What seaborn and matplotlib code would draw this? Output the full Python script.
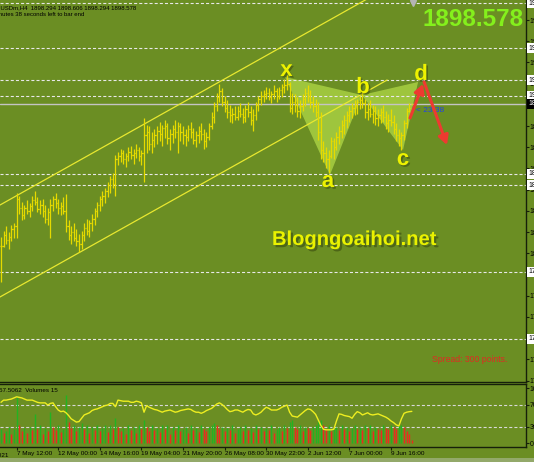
import matplotlib
matplotlib.use("Agg")
import matplotlib.pyplot as plt
import matplotlib.transforms as mtransforms
import matplotlib.patheffects as pe
from matplotlib.patches import Polygon, Rectangle
from matplotlib.ticker import FormatStrFormatter
import numpy as np
import pandas as pd
import seaborn as sns

# ---------------- data ----------------
bar_high = [1811, 1815, 1818, 1814, 1819, 1820, 1840, 1838, 1834, 1832,
            1835, 1833, 1838, 1841, 1837, 1835, 1836, 1832, 1830, 1836,
            1838, 1840, 1836, 1834, 1837, 1839, 1822, 1818, 1820, 1816,
            1813, 1815, 1820, 1823, 1822, 1826, 1830, 1834, 1838, 1841,
            1843, 1847, 1851, 1853, 1865, 1867, 1869, 1868, 1866, 1870,
            1871, 1869, 1872, 1870, 1868, 1889, 1885, 1884, 1880, 1882,
            1884, 1887, 1885, 1888, 1886, 1882, 1885, 1888, 1887, 1886,
            1884, 1882, 1885, 1887, 1883, 1881, 1884, 1886, 1882, 1880,
            1886, 1893, 1900, 1906, 1912, 1909, 1904, 1901, 1898, 1896,
            1897, 1897, 1899, 1896, 1898, 1900, 1897, 1895, 1900, 1904,
            1907, 1908, 1910, 1909, 1907, 1911, 1909, 1910, 1912, 1915,
            1918, 1913, 1906, 1905, 1903, 1901, 1905, 1909, 1911, 1908,
            1904, 1902, 1900, 1893, 1874, 1870, 1868, 1877, 1876, 1880,
            1884, 1888, 1891, 1894, 1897, 1899, 1901, 1902, 1904, 1906,
            1902, 1899, 1901, 1898, 1897, 1895, 1896, 1898, 1894, 1892,
            1895, 1891, 1886, 1882, 1880, 1888, 1896, 1899, 1898.606]
bar_low = [1781, 1804, 1806, 1803, 1808, 1810, 1810, 1826, 1822, 1823,
           1826, 1824, 1828, 1832, 1827, 1826, 1824, 1820, 1819, 1810,
           1828, 1830, 1826, 1825, 1826, 1814, 1809, 1806, 1808, 1805,
           1801, 1803, 1808, 1812, 1811, 1815, 1819, 1824, 1828, 1831,
           1833, 1837, 1840, 1843, 1838, 1858, 1860, 1859, 1857, 1861,
           1862, 1859, 1863, 1861, 1858, 1847, 1866, 1868, 1866, 1870,
           1872, 1874, 1871, 1876, 1872, 1868, 1873, 1876, 1866, 1874,
           1872, 1871, 1874, 1876, 1872, 1870, 1873, 1875, 1869, 1870,
           1875, 1882, 1886, 1894, 1900, 1897, 1893, 1889, 1887, 1886,
           1888, 1888, 1890, 1886, 1887, 1890, 1885, 1881, 1888, 1894,
           1898, 1900, 1902, 1901, 1899, 1902, 1900, 1902, 1903, 1906,
           1908, 1893, 1892, 1893, 1890, 1889, 1894, 1897, 1900, 1896,
           1893, 1890, 1875, 1862, 1860, 1856, 1853, 1863, 1862, 1868,
           1872, 1876, 1879, 1883, 1887, 1889, 1891, 1892, 1895, 1896,
           1889, 1888, 1890, 1886, 1885, 1884, 1886, 1887, 1882, 1880,
           1884, 1879, 1874, 1871, 1868, 1875, 1883, 1893, 1898.294]
bar_close = [1805, 1812, 1809, 1811, 1816, 1818, 1836, 1830, 1825, 1830,
             1828, 1831, 1835, 1834, 1829, 1832, 1828, 1823, 1827, 1832,
             1836, 1833, 1830, 1831, 1828, 1818, 1812, 1814, 1810, 1808,
             1806, 1812, 1817, 1815, 1820, 1823, 1828, 1832, 1836, 1838,
             1841, 1845, 1849, 1846, 1862, 1864, 1866, 1862, 1864, 1867,
             1865, 1866, 1868, 1864, 1866, 1878, 1880, 1872, 1875, 1878,
             1881, 1879, 1883, 1884, 1876, 1879, 1882, 1880, 1884, 1880,
             1878, 1877, 1882, 1880, 1875, 1878, 1881, 1879, 1874, 1877,
             1884, 1890, 1897, 1903, 1907, 1900, 1896, 1893, 1891, 1892,
             1890, 1894, 1892, 1890, 1895, 1893, 1888, 1891, 1898, 1902,
             1904, 1905, 1906, 1903, 1905, 1907, 1904, 1908, 1910, 1911,
             1912, 1896, 1900, 1898, 1894, 1897, 1902, 1906, 1904, 1900,
             1897, 1893, 1880, 1868, 1866, 1862, 1864, 1874, 1870, 1877,
             1881, 1885, 1888, 1891, 1894, 1896, 1898, 1900, 1901, 1899,
             1893, 1895, 1892, 1894, 1889, 1891, 1893, 1890, 1886, 1888,
             1887, 1882, 1878, 1876, 1878, 1886, 1894, 1896, 1898.578]
volumes = [26, 18, 22, 30, 16, 25, 84, 33, 22, 28,
           19, 30, 24, 52, 26, 32, 16, 28, 22, 56,
           30, 24, 32, 20, 26, 87, 38, 28, 33, 22,
           30, 36, 26, 32, 18, 30, 24, 33, 22, 28,
           32, 20, 33, 26, 46, 30, 22, 28, 16, 32,
           24, 30, 18, 33, 26, 42, 30, 22, 32, 24,
           28, 20, 33, 26, 32, 16, 30, 24, 33, 22,
           26, 30, 18, 32, 24, 28, 20, 33, 26, 22,
           30, 33, 36, 32, 26, 30, 22, 28, 24, 32,
           18, 26, 30, 22, 33, 24, 28, 20, 32, 26,
           30, 22, 28, 24, 32, 18, 26, 30, 22, 33,
           28, 38, 42, 30, 26, 33, 22, 30, 28, 24,
           30, 33, 40, 42, 32, 26, 33, 22, 28, 30,
           24, 32, 26, 30, 22, 28, 33, 26, 30, 24,
           32, 28, 33, 22, 30, 26, 24, 32, 28, 26,
           33, 30, 26, 32, 33, 30, 22, 16, 6]
rsi_values = [74, 78, 78, 79, 80, 82, 84, 83, 82, 80,
              78, 78, 78, 76, 74, 73, 73, 73, 69, 72,
              73, 66, 60, 57, 58, 55, 50, 44, 41, 38,
              39, 45, 51, 53, 55, 59, 61, 62, 64, 66,
              68, 69, 72, 72, 66, 78, 77, 76, 76, 76,
              74, 74, 76, 75, 73, 56, 68, 65, 63, 61,
              60, 58, 56, 58, 59, 60, 58, 56, 57, 59,
              60, 61, 62, 61, 58, 56, 56, 54, 56, 59,
              61, 63, 67, 71, 73, 70, 66, 61, 57, 58,
              60, 60, 58, 56, 59, 61, 60, 53, 51, 53,
              56, 61, 65, 63, 60, 60, 60, 62, 65, 67,
              69, 56, 49, 48, 47, 51, 55, 59, 62, 61,
              57, 52, 42, 32, 25, 24, 24, 24, 25, 40,
              53, 52, 50, 49, 48, 45, 52, 57, 55, 51,
              53, 55, 52, 51, 52, 53, 51, 49, 47, 44,
              40, 37, 33, 31, 44, 54, 56, 57, 57.5062]

date_tick_bars = [-10, 6, 22, 38, 54, 70, 86, 102, 118, 134, 150]
date_tick_labels = ["5 May 2021", "7 May 12:00", "12 May 00:00", "14 May 16:00",
                    "19 May 04:00", "21 May 20:00", "26 May 08:00", "30 May 22:00",
                    "2 Jun 12:00", "7 Jun 00:00", "9 Jun 16:00"]
price_ticks = [1716, 1730, 1744, 1758, 1772, 1786, 1800, 1814, 1828,
               1842, 1856, 1870, 1884, 1898, 1912, 1926, 1940, 1954]
level_prices = [1965.2, 1935.5, 1914.4, 1903.9, 1852.4, 1845.1, 1787.7, 1743.5]
current_price = 1898.578
last_ohlc = [1898.294, 1898.606, 1898.294, 1898.578]
rsi_levels = [30, 70]
rsi_ticks = [0, 30, 70, 100]

pattern_names = ["x", "a", "b", "c", "d"]
pattern_bars = [109.2, 126.5, 138.8, 154.6, 160.4]
pattern_prices = [1916.4, 1851.7, 1904.5, 1868.2, 1913.1]

channel_bars = [-0.4, 148.5]
channel_lower = [1771.2, 1914.4]
channel_upper = [1831.9, 1975.3]

arrow_up_bars = [157.3, 162.3]
arrow_up_prices = [1889.3, 1911.8]
arrow_down_bars = [162.7, 171.5]
arrow_down_prices = [1913.1, 1871.5]

# ---------------- style ----------------
BG = "#6b8e23"
BAR = "#e6da00"
FRAME = "#16200a"
sns.set_style("dark", {"axes.facecolor": BG, "figure.facecolor": BG})
plt.rcParams["font.family"] = ["Liberation Sans", "DejaVu Sans"]
plt.rcParams["lines.scale_dashes"] = False
W, H = 534, 462

fig = plt.figure(figsize=(W / 100, H / 100), dpi=100, facecolor=BG)
ax = fig.add_axes([0, 80 / H, 526 / W, 382 / H])
ax2 = fig.add_axes([0, 15 / H, 526 / W, 63 / H])
fig.patches.append(Rectangle((0, 0), 1, 4 / H, transform=fig.transFigure,
                             facecolor="#93a96a", edgecolor="none"))

for a in (ax, ax2):
    a.set_facecolor(BG)
    a.grid(False)
    a.set_xlim(-0.385, 201.9)
    for s in a.spines.values():
        s.set_color(FRAME)
        s.set_linewidth(1)
    a.spines["left"].set_visible(False)
ax.spines["top"].set_visible(False)

# ---------------- main price panel ----------------
ax.set_ylim(1715.1, 1967.2)
idx = np.arange(len(bar_close))
bar_open = [bar_close[0]] + bar_close[:-1]
bar_open[-1] = last_ohlc[0]

xa = list(zip(pattern_bars, pattern_prices))
ax.add_patch(Polygon([xa[0], xa[1], xa[2]], closed=True, facecolor="#bfe84e",
                     edgecolor="none", alpha=0.62, zorder=1))
ax.add_patch(Polygon([xa[2], xa[3], xa[4]], closed=True, facecolor="#bfe84e",
                     edgecolor="none", alpha=0.62, zorder=1))

for p in level_prices:
    ax.axhline(p, color="#e8e8e8", lw=0.8, ls=(0, (2.2, 1.5)), zorder=1.5)
ax.axhline(current_price, color="#c4c4c4", lw=1, zorder=1.5)

ax.plot(channel_bars, channel_lower, color="#e8e830", lw=0.9, zorder=2)
ax.plot(channel_bars, channel_upper, color="#e8e830", lw=0.9, zorder=2)

ax.vlines(idx, bar_low, bar_high, color=BAR, lw=0.9, zorder=3)
ax.hlines(bar_close, idx, idx + 0.45, color=BAR, lw=0.9, zorder=3)
ax.hlines(bar_open, idx - 0.45, idx, color=BAR, lw=0.9, zorder=3)

label_offsets = {"x": (1.5, 1), "a": (-2, -12), "b": (1, 2), "c": (0, -15), "d": (3, 2)}
shadow = [pe.withSimplePatchShadow(offset=(1.2, -1.2), shadow_rgbFace="#3a4a10", alpha=0.55)]
for name, bx, py in zip(pattern_names, pattern_bars, pattern_prices):
    dx, dy = label_offsets[name]
    ax.annotate(name, xy=(bx, py), xytext=(dx, dy), textcoords="offset pixels",
                ha="center", va="baseline", fontsize=16, fontweight="bold",
                color="#eef200", zorder=6, path_effects=shadow)

for bxs, pys in ((arrow_up_bars, arrow_up_prices), (arrow_down_bars, arrow_down_prices)):
    ax.annotate("", xy=(bxs[1], pys[1]), xytext=(bxs[0], pys[0]),
                arrowprops=dict(arrowstyle="-|>,head_length=0.55,head_width=0.3",
                                color="#ee3a30", lw=2.2, shrinkA=0, shrinkB=0),
                zorder=7)

ax.text(159.5, current_price - 2.2, "< 23:38", color="#2040f0", fontsize=6,
        va="top", ha="left", zorder=6)

ax.set_yticks(price_ticks)
ax.yaxis.set_major_formatter(FormatStrFormatter("%.2f"))
ax.tick_params(axis="y", left=False, labelleft=False, right=True, labelright=True,
               length=2, width=0.8, color=FRAME, labelcolor="black", labelsize=5,
               pad=0.5, direction="out")
ax.tick_params(axis="x", bottom=False, labelbottom=False)
ax.set_xlabel("")
ax.set_ylabel("")

blend = mtransforms.blended_transform_factory(ax.transAxes, ax.transData)
for p in level_prices:
    ax.text(1.0 + 2.5 / 526, p, f"{p:.2f}", transform=blend, fontsize=5, color="black",
            va="center", ha="left", zorder=8,
            bbox=dict(boxstyle="square,pad=0.2", fc="white", ec="none"))
ax.text(1.0 + 2.5 / 526, current_price, f"{current_price:.2f}", transform=blend,
        fontsize=5, color="white", va="center", ha="left", zorder=9,
        bbox=dict(boxstyle="square,pad=0.2", fc="black", ec="none"))

tshift = mtransforms.blended_transform_factory(ax.transData, ax.transAxes)
ax.plot([158.5], [0.993], marker="v", ms=4, color="#b4b4b4", transform=tshift,
        clip_on=False, zorder=6)

# ---------------- indicator panel ----------------
ax2.set_ylim(-7.27, 107.3)
vol_colors = ["#22b322" if (k == 0 or volumes[k] > volumes[k - 1]) else "#ec2a1e"
              for k in range(len(volumes))]
ax2.vlines(idx, 0, volumes, colors=vol_colors, lw=1, zorder=2)
for lv in rsi_levels:
    ax2.axhline(lv, color="#d8d8d8", lw=0.8, ls=(0, (2.2, 1.5)), zorder=1)
df = pd.DataFrame({"bar": idx, "rsi": rsi_values})
sns.lineplot(data=df, x="bar", y="rsi", ax=ax2, color="#eeee20", lw=1,
             estimator=None, zorder=3)
ax2.set_xlabel("")
ax2.set_ylabel("")
ax2.set_yticks(rsi_ticks)
ax2.set_yticklabels([str(t) for t in rsi_ticks])
ax2.tick_params(axis="y", left=False, labelleft=False, right=True, labelright=True,
                length=2, width=0.8, color=FRAME, labelcolor="black", labelsize=5,
                pad=0.5, direction="out")
ax2.set_xticks(date_tick_bars[1:])
ax2.set_xticklabels(date_tick_labels[1:])
ax2.tick_params(axis="x", bottom=True, labelbottom=True, length=2, width=0.8,
                color=FRAME, labelcolor="black", labelsize=4.6, pad=1.2, direction="out")
for lab in ax2.get_xticklabels():
    lab.set_ha("left")
ax2.set_xlim(-0.385, 201.9)
tx = mtransforms.blended_transform_factory(ax2.transData, ax2.transAxes)
ax2.text(date_tick_bars[0], -6 / 63, date_tick_labels[0], transform=tx, fontsize=4.6,
         color="black", ha="left", va="top", clip_on=False)
ax2.text(-1 / 526, 1 - 8 / 63, "57.5062  Volumes 15", transform=ax2.transAxes,
         fontsize=4.5, color="black", ha="left", va="baseline")

# ---------------- figure texts ----------------
fig.text(-12 / W, 1 - 9 / H, "XAUUSDm,H4  " + " ".join(f"{v:.3f}" for v in last_ohlc),
         fontsize=4.3, color="black", ha="left", va="baseline")
fig.text(-16 / W, 1 - 16 / H, "23 minutes 38 seconds left to bar end",
         fontsize=4.3, color="black", ha="left", va="baseline")
fig.text(524 / W, 1 - 26 / H, f"{current_price:.3f}", fontsize=17.5, fontweight="bold",
         color="#84f01c", ha="right", va="baseline")
fig.text(354 / W, 1 - 245 / H, "Blogngoaihoi.net", fontsize=14.5, fontweight="bold",
         color="#eaf200", ha="center", va="baseline",
         path_effects=[pe.withSimplePatchShadow(offset=(1.6, -1.6),
                                                shadow_rgbFace="#3a4a10", alpha=0.6)])
fig.text(432 / W, 1 - 362 / H, "Spread: 300 points.", fontsize=6.2, color="#e02a22",
         ha="left", va="baseline")

fig.savefig("out.png", dpi=100, facecolor=BG)
